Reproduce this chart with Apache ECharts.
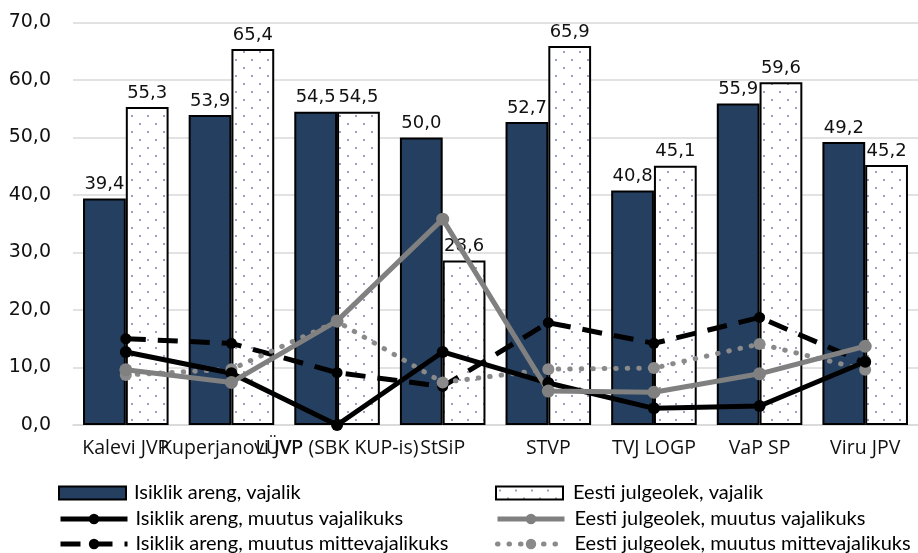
<!DOCTYPE html>
<html><head><meta charset="utf-8">
<script src="https://cdn.jsdelivr.net/npm/echarts@6/dist/echarts.min.js"></script>
<style>html,body{margin:0;padding:0;background:#fff}#c{width:918px;height:553px}</style>
</head><body><div id="c"></div>
<script>
var categories = ['Kalevi JVP','Kuperjanovi JVP','LÜVP (SBK KUP-is)','StSiP','STVP','TVJ LOGP','VaP SP','Viru JPV'];
var yTicks = [0,10,20,30,40,50,60,70];
var isiklikVajalik = [39.4,53.9,54.5,50.0,52.7,40.8,55.9,49.2];
var eestiVajalik = [55.3,65.4,54.5,28.6,65.9,45.1,59.6,45.2];
var isiklikMuutusVaj = [12.7,9.0,0.0,12.7,7.3,2.9,3.3,11.0];
var eestiMuutusVaj = [9.6,7.4,18.1,35.8,5.9,5.7,8.9,13.7];
var isiklikMuutusMitte = [15.0,14.2,9.1,6.7,17.8,14.2,18.7,10.8];
var eestiMuutusMitte = [8.7,9.7,18.0,7.4,9.7,9.9,14.1,9.6];
var names = ['Isiklik areng, vajalik','Eesti julgeolek, vajalik','Isiklik areng, muutus vajalikuks','Eesti julgeolek, muutus vajalikuks','Isiklik areng, muutus mittevajalikuks','Eesti julgeolek, muutus mittevajalikuks'];

var pc = document.createElement('canvas');
pc.width = 16; pc.height = 16;
var g = pc.getContext('2d');
g.fillStyle = '#ffffff'; g.fillRect(0,0,16,16);
g.fillStyle = '#6a7a98';
g.beginPath(); g.arc(4,4,0.9,0,Math.PI*2); g.fill();
g.beginPath(); g.arc(12,12,0.9,0,Math.PI*2); g.fill();

function fmt(v){ return v.toFixed(1).replace('.', ','); }
var numFont = 'DejaVu Sans';
var chart = echarts.init(document.getElementById('c'), null, {renderer:'canvas'});
var barLabel = {show:true, position:'top', distance:5, color:'#111', fontSize:18, fontFamily:numFont, formatter:function(p){return fmt(p.value);}};

var legendPos = [[58,483],[495,483],[58,509],[495,509],[58,534],[495,534]];
var legends = names.map(function(n,i){
  var item = {name:n};
  if (i < 2) item.icon = 'rect';
  return {orient:'horizontal', left:legendPos[i][0], top:legendPos[i][1], itemWidth:67, itemHeight:13, padding:0,
    lineStyle:{width:5},
    textStyle:{fontSize:20, lineHeight:18, fontFamily:'Lato', color:'#000', padding:[0,0,0,(i%2===0?3:5)]},
    data:[item]};
});
chart.setOption({
  animation:false,
  backgroundColor:'#fff',
  grid:{left:73, top:22.5, width:849, bottom:128, containLabel:false},
  legend:legends,
  xAxis:{type:'category', data:categories,
    axisLine:{show:true, lineStyle:{color:'#d9d9d9', width:1.5}},
    axisTick:{show:false},
    axisLabel:{interval:0, hideOverlap:false, color:'#111', fontSize:19.5, fontFamily:'Open Sans', margin:13}},
  yAxis:{type:'value', min:0, max:70, interval:10,
    axisLine:{show:false}, axisTick:{show:false},
    splitLine:{lineStyle:{color:'#d9d9d9', width:1.5}},
    axisLabel:{color:'#111', fontSize:19, fontFamily:numFont, margin:22, formatter:function(v){return fmt(v);}}},
  series:[
    {name:names[0], type:'bar', data:isiklikVajalik, barGap:'0%', barCategoryGap:'19%',
     itemStyle:{color:'#253f60', borderColor:'#000', borderWidth:2}, label:barLabel},
    {name:names[1], type:'bar', data:eestiVajalik, barGap:'0%', barCategoryGap:'19%',
     itemStyle:{color:{image:pc, repeat:'repeat'}, borderColor:'#000', borderWidth:2}, label:barLabel},
    {name:names[4], type:'line', data:isiklikMuutusMitte, symbol:'circle', symbolSize:11,
     itemStyle:{color:'#000'}, lineStyle:{color:'#000', width:5, type:[20,12]}},
    {name:names[5], type:'line', data:eestiMuutusMitte, symbol:'circle', symbolSize:12,
     itemStyle:{color:'#8a8a8a'}, lineStyle:{color:'#8a8a8a', width:5, type:[0.5,11], cap:'round'}},
    {name:names[2], type:'line', data:isiklikMuutusVaj, symbol:'circle', symbolSize:12,
     itemStyle:{color:'#000'}, lineStyle:{color:'#000', width:5}},
    {name:names[3], type:'line', data:eestiMuutusVaj, symbol:'circle', symbolSize:13,
     itemStyle:{color:'#808080'}, lineStyle:{color:'#808080', width:5}}
  ]
});
</script></body></html>
